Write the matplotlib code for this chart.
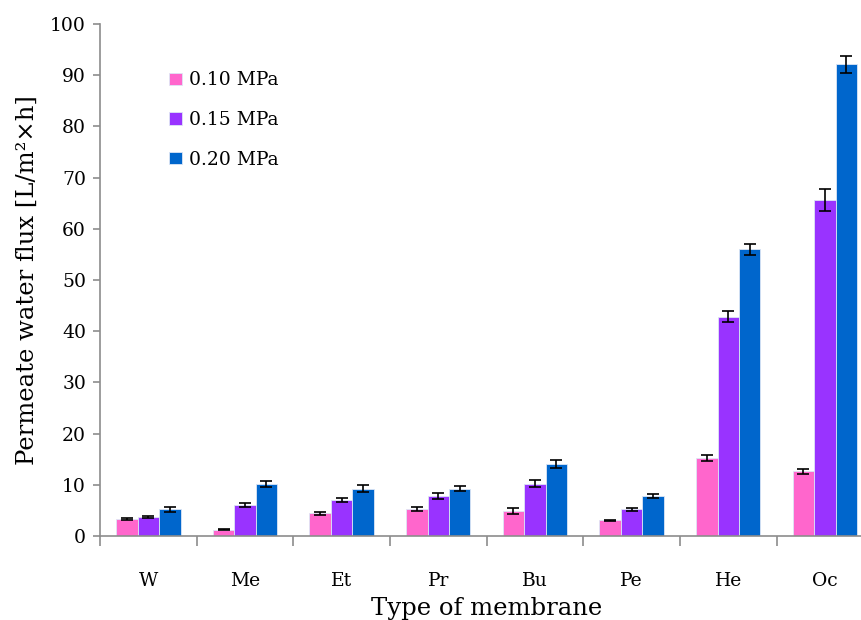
import numpy as np
import matplotlib.pyplot as plt

# membrane types and measured flux values
membranes = ['W', 'Me', 'Et', 'Pr', 'Bu', 'Pe', 'He', 'Oc']
labels = ['0.10 MPa', '0.15 MPa', '0.20 MPa']
flux_010 = [3.3, 1.2, 4.4, 5.2, 4.9, 3.1, 15.2, 12.6]
flux_015 = [3.8, 6.1, 7.0, 7.8, 10.2, 5.2, 42.8, 65.6]
flux_020 = [5.2, 10.2, 9.2, 9.2, 14.1, 7.8, 56.0, 92.1]
err_010 = [0.2, 0.1, 0.3, 0.4, 0.6, 0.1, 0.65, 0.5]
err_015 = [0.2, 0.4, 0.4, 0.5, 0.7, 0.3, 1.1, 2.2]
err_020 = [0.5, 0.6, 0.7, 0.5, 0.8, 0.4, 1.1, 1.6]
colors = ['#FF66CC', '#9933FF', '#0066CC']

plt.rcParams['font.family'] = ['DejaVu Serif']

fig = plt.figure(figsize=(8.62, 6.2), dpi=100)
ax = fig.add_axes([0.116, 0.1355, 0.897, 0.826])

x = np.arange(len(membranes))
w = 0.222
series = [flux_010, flux_015, flux_020]
errs = [err_010, err_015, err_020]
for i in range(3):
    ax.bar(x + (i - 1) * w, series[i], w, color=colors[i], edgecolor='#dde6f5',
           linewidth=0.6, label=labels[i],
           yerr=errs[i], capsize=4.5, error_kw=dict(ecolor='black', elinewidth=1.2, capthick=1.2))

ax.set_xlim(-0.5, len(membranes) - 0.5)
ax.set_ylim(0, 100)
ax.set_yticks(range(0, 101, 10))
ax.set_xticks(x)
ax.set_xticklabels(membranes)
ax.set_xticks(np.arange(-0.5, len(membranes), 1), minor=True)
ax.tick_params(axis='x', which='major', length=0, pad=26, labelsize=13.5)
ax.tick_params(axis='x', which='minor', length=7, color='#8c8c8c', width=1.2)
ax.tick_params(axis='y', length=5, color='#8c8c8c', width=1.2, labelsize=13.5, pad=5)

for s in ['top', 'right']:
    ax.spines[s].set_visible(False)
for s in ['left', 'bottom']:
    ax.spines[s].set_color('#8c8c8c')
    ax.spines[s].set_linewidth(1.2)

ax.set_ylabel('Permeate water flux [L/m²×h]', fontsize=17.5, labelpad=8)
ax.set_xlabel('Type of membrane', fontsize=17.5, labelpad=5)

ax.legend(loc='upper left', bbox_to_anchor=(0.068, 0.94), frameon=False, fontsize=13.5,
          handlelength=0.65, handleheight=0.65, handletextpad=0.4, labelspacing=1.15)

fig.savefig('out.png', dpi=100)
